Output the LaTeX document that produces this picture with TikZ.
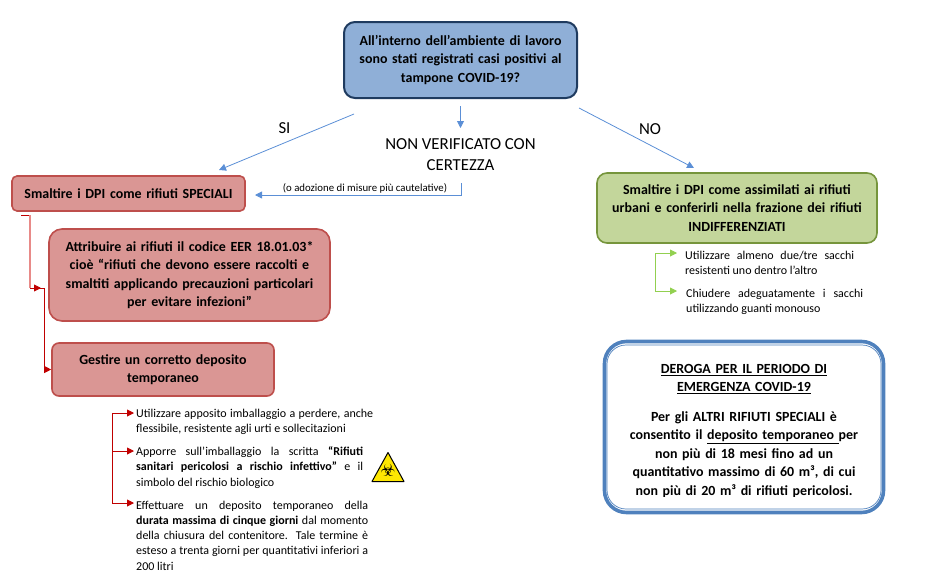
\documentclass[tikz,border=0pt]{standalone}
\usepackage{fontspec}
\setmainfont{Carlito}
\newfontfamily\symbfont{DejaVu Sans}
\usetikzlibrary{arrows.meta}
\newcommand{\FontBox}{\fontsize{13.95}{18.5}\selectfont\bfseries}
\newcommand{\FontList}{\fontsize{12}{15.3}\selectfont}
\newcommand{\FontLabel}{\fontsize{16.8}{21}\selectfont}
\newcommand{\JLine}[2]{\makebox[#1pt][s]{#2}}
\definecolor{BlueFill}{HTML}{8FAFD7}
\definecolor{BlueEdge}{HTML}{1F3B5F}
\definecolor{BlueLine}{HTML}{5B8FD6}
\definecolor{RedFill}{HTML}{DA9694}
\definecolor{RedEdge}{HTML}{BE4F4C}
\definecolor{RedLine}{HTML}{C00000}
\definecolor{RedPale}{HTML}{E88A88}
\definecolor{GreenFill}{HTML}{C3D69B}
\definecolor{GreenEdge}{HTML}{76953C}
\definecolor{GreenLine}{HTML}{92D050}
\definecolor{FrameBlue}{HTML}{4F81BD}
\tikzset{
    boxnode/.style={inner sep=0pt, align=center, font=\FontBox, line width=1.6pt},
    redbox/.style={boxnode, draw=RedEdge, fill=RedFill},
    listnode/.style={inner sep=0pt, anchor=north west, align=left, font=\FontList},
    labelnode/.style={inner sep=0pt, align=center, font=\FontLabel},
    bluearrow/.style={draw=BlueLine, line width=0.8pt, -{Triangle[length=7pt,width=7pt]}},
    redarrow/.style={draw=RedLine, line width=0.9pt, -{Triangle[length=7pt,width=7pt]}},
    greenarrow/.style={draw=GreenLine, line width=0.9pt, -{Triangle[length=7pt,width=7pt]}},
}
\begin{document}
\begin{tikzpicture}[x=1pt,y=-1pt]
\useasboundingbox (0,0) rectangle (926,576);

% main boxes
\node[boxnode, draw=BlueEdge, fill=BlueFill, rounded corners=11pt, minimum width=233, minimum height=76, text width=225pt, line width=2pt] (question) at (460.5,60)
    {All’interno dell’ambiente di lavoro\\ sono stati registrati casi positivi al\\ tampone COVID-19?};
\node[redbox, rounded corners=5pt, minimum width=233, minimum height=35, text width=225pt] (speciali) at (128.5,193.5)
    {Smaltire i DPI come rifiuti SPECIALI};
\node[redbox, rounded corners=13pt, minimum width=281, minimum height=92, text width=270pt] (codice) at (189.5,275)
    {Attribuire ai rifiuti il codice EER 18.01.03*\\ cioè “rifiuti che devono essere raccolti e\\ smaltiti applicando precauzioni particolari\\ per evitare infezioni”};
\node[redbox, rounded corners=7pt, minimum width=222, minimum height=53, text width=210pt] (deposito) at (163,369.5)
    {Gestire un corretto deposito\\ temporaneo};
\node[boxnode, draw=GreenEdge, fill=GreenFill, rounded corners=10pt, minimum width=280, minimum height=70, text width=270pt] (assimilati) at (737,208)
    {Smaltire i DPI come assimilati ai rifiuti\\ urbani e conferirli nella frazione dei rifiuti\\ INDIFFERENZIATI};

% frame on the right
\node[draw=FrameBlue, fill=white, rounded corners=22pt, minimum width=279, minimum height=171, inner sep=0pt, line width=3.6pt] (deroga) at (744,427) {};
\draw[FrameBlue, line width=0.7pt, rounded corners=19pt] (607,345) rectangle (881,509);
\begin{scope}
\clip (607,345) rectangle (881,496.5);
\node[boxnode, text width=260pt] (derogatxt) at (744,431)
    {\underline{DEROGA PER IL PERIODO DI}\\ \underline{EMERGENZA COVID-19}\\[11pt]
     Per gli ALTRI RIFIUTI SPECIALI è\\ consentito il \underline{deposito temporaneo }per\\ non più di 18 mesi fino ad un\\ quantitativo massimo di 60 m³, di cui\\ non più di 20 m³ di rifiuti pericolosi.};
\end{scope}

% labels
\node[labelnode] (si) at (284.5,128) {SI};
\node[labelnode] (no) at (650,129) {NO};
\node[labelnode] (incerto) at (460.5,155) {NON VERIFICATO CON\\ CERTEZZA};
\node[font=\fontsize{10.8}{13}\selectfont, inner sep=0pt] (cautela) at (365,188) {(o adozione di misure più cautelative)};

% list texts
\node[listnode] (imballo) at (136,409) {\JLine{237}{Utilizzare apposito imballaggio a perdere, anche}\\ flessibile, resistente agli urti e sollecitazioni};
\node[listnode] (scritta) at (136,446.5) {\JLine{227}{Apporre sull’imballaggio la scritta \textbf{“Rifiuti}}\\ \JLine{227}{\textbf{sanitari pericolosi a rischio infettivo”} e il}\\ simbolo del rischio biologico};
\node[listnode] (durata) at (136,500.5) {\JLine{232}{Effettuare un deposito temporaneo della}\\ \JLine{232}{\textbf{durata massima di cinque giorni} dal momento}\\ \JLine{232}{della chiusura del contenitore. Tale termine è}\\ \JLine{232}{esteso a trenta giorni per quantitativi inferiori a}\\ 200 litri};
\node[listnode] (sacchi) at (685,250.5) {\JLine{169}{Utilizzare almeno due/tre sacchi}\\ resistenti uno dentro l’altro};
\node[listnode] (chiudere) at (686,288.5) {\JLine{177}{Chiudere adeguatamente i sacchi}\\ utilizzando guanti monouso};

% biohazard sign
\draw[black, fill=yellow!90!orange, line width=1pt, line join=round] (388,452.5) -- (404,481.5) -- (372,481.5) -- cycle;
\node[font=\symbfont\fontsize{17}{17}\selectfont, inner sep=0pt] (bio) at (388,470) {☣};

% free ends of the arrows
\coordinate (siA) at (354,114);
\coordinate (siB) at (219,170);
\coordinate (midA) at (460.5,106);
\coordinate (midB) at (460.5,128);
\coordinate (noA) at (579,108);
\coordinate (noB) at (694,168);
\coordinate (cautA) at (461.5,183);
\coordinate (cautB) at (255,195);
\draw[bluearrow] (siA) -- (siB);
\draw[bluearrow] (midA) -- (midB);
\draw[bluearrow] (noA) -- (noB);
\draw[bluearrow] (cautA) |- (cautB);

% red connectors on the left
\coordinate (redA) at (21,215);
\coordinate (redB) at (30,215);
\coordinate (redC) at (41,288);
\coordinate (redD) at (44,288);
\coordinate (redE) at (33,288);
\draw[RedLine, line width=0.9pt] (redA) -- (redB);
\draw[draw=RedPale, line width=1.2pt] (redB) -- (30,288);
\draw[redarrow] (30,288) -- (redC);
\draw[redarrow, -] (redE) -- (redD);
\draw[redarrow] (redD) |- (deposito.west);

% branches under the deposit box
\coordinate (trunk) at (112,413);
\draw[RedLine, line width=0.9pt] (trunk) -- (112,503);
\foreach \y in {413,451,503}
{
    \draw[redarrow] (112,\y) -- (134,\y);
}

% branches under the green box
\coordinate (gtrunk) at (655,253);
\draw[GreenLine, line width=0.9pt] (gtrunk) -- (655,291);
\foreach \y in {253,291}
{
    \draw[greenarrow] (655,\y) -- (677,\y);
}
\end{tikzpicture}
\end{document}
